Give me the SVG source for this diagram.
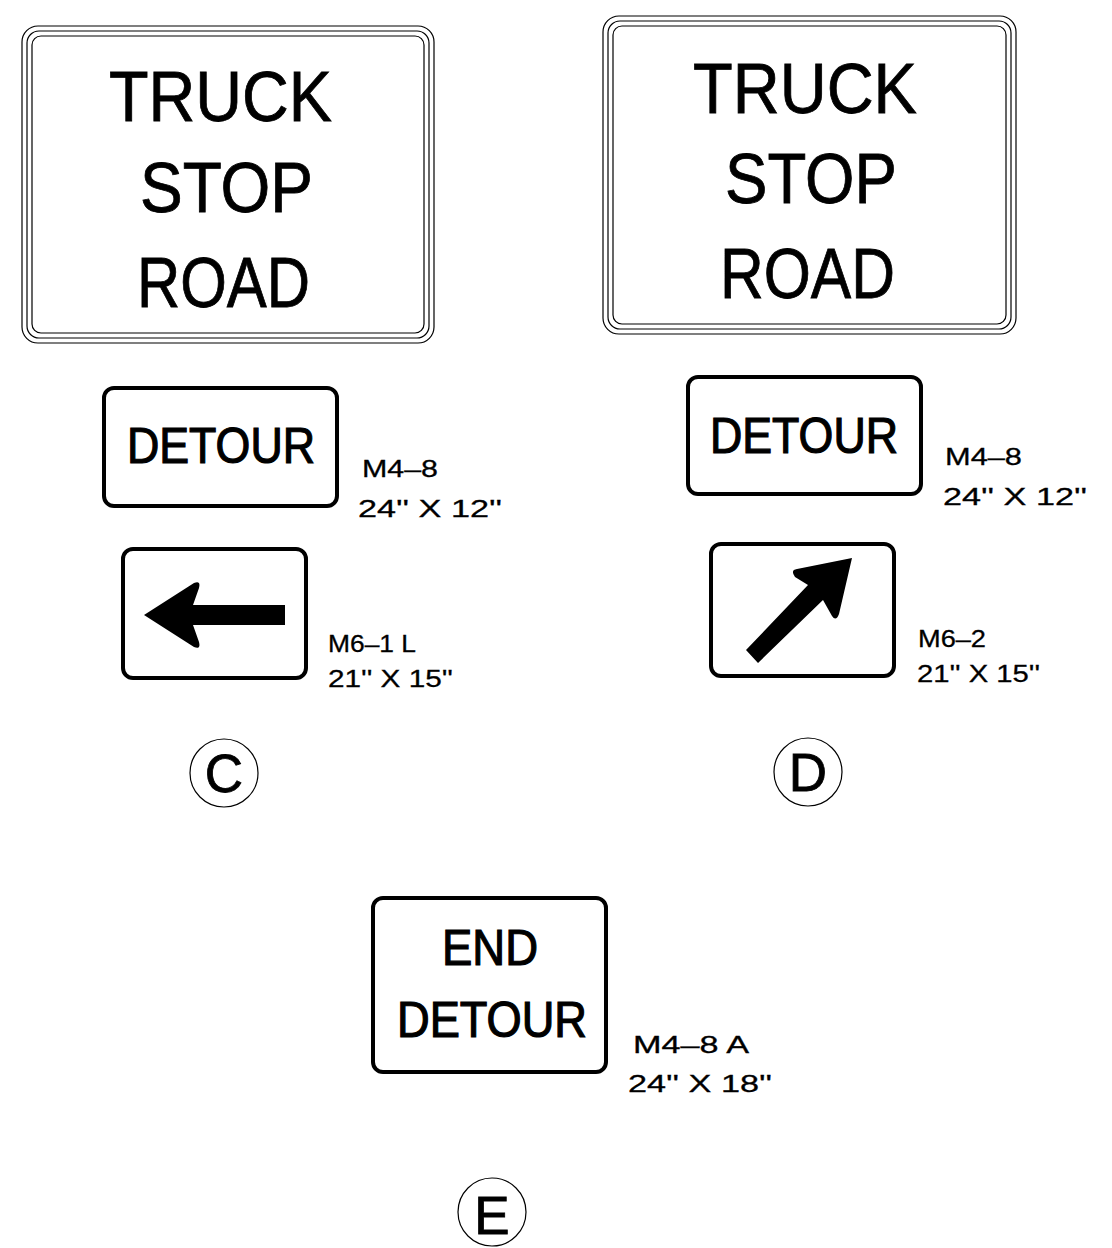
<svg xmlns="http://www.w3.org/2000/svg" width="1112" height="1248" viewBox="0 0 1112 1248">
<style>
.bg{fill:#fff}
.thin{fill:none;stroke:#000;stroke-width:1.2}
.sign{fill:#fff;stroke:#000;stroke-width:4}
.big{font-family:"Liberation Sans",Arial,sans-serif;font-size:70px;fill:#000;stroke:#000;stroke-width:0.8}
.leg{font-family:"Liberation Sans",Arial,sans-serif;font-size:50px;fill:#000;stroke:#000;stroke-width:1.2}
.lab{font-family:"Liberation Sans",Arial,sans-serif;font-size:24px;fill:#000;stroke:#000;stroke-width:0.3}
.circ{fill:none;stroke:#000;stroke-width:1.2}
.cl{font-family:"Liberation Sans",Arial,sans-serif;font-size:53px;fill:#000;stroke:#000;stroke-width:0.8;text-anchor:middle}
</style>
<rect class="bg" x="0" y="0" width="1112" height="1248"/>
<g id="signA">
<rect class="thin" x="22" y="26" width="412" height="317" rx="16"/>
<rect class="thin" x="27" y="31" width="402" height="307" rx="12"/>
<rect class="thin" x="32" y="36" width="392" height="297" rx="9"/>
<text class="big" x="109" y="121" textLength="223" lengthAdjust="spacingAndGlyphs">TRUCK</text>
<text class="big" x="140" y="212" textLength="173" lengthAdjust="spacingAndGlyphs">STOP</text>
<text class="big" x="137" y="307" textLength="173" lengthAdjust="spacingAndGlyphs">ROAD</text>
</g>
<g id="signB">
<rect class="thin" x="603" y="16" width="413" height="318" rx="16"/>
<rect class="thin" x="608" y="21" width="403" height="308" rx="12"/>
<rect class="thin" x="613" y="26" width="393" height="298" rx="9"/>
<text class="big" x="693" y="113" textLength="224" lengthAdjust="spacingAndGlyphs">TRUCK</text>
<text class="big" x="725" y="203" textLength="172" lengthAdjust="spacingAndGlyphs">STOP</text>
<text class="big" x="720" y="298" textLength="175" lengthAdjust="spacingAndGlyphs">ROAD</text>
</g>
<g id="signC1">
<rect class="sign" x="104" y="388" width="233" height="118" rx="10"/>
<text class="leg" x="127" y="463" textLength="188" lengthAdjust="spacingAndGlyphs">DETOUR</text>
<text class="lab" x="362" y="477" textLength="76" lengthAdjust="spacingAndGlyphs">M4–8</text>
<text class="lab" x="358" y="517" textLength="144" lengthAdjust="spacingAndGlyphs">24'' X 12''</text>
</g>
<g id="signC2">
<rect class="sign" x="123" y="549" width="183" height="129" rx="10"/>
<path d="M144,615 L194,583 Q201,580 199,588 L193,605 L285,605 L285,625 L193,625 L199,642 Q201,650 194,647 Z" fill="#000"/>
<text class="lab" x="328" y="652" textLength="88" lengthAdjust="spacingAndGlyphs">M6–1 L</text>
<text class="lab" x="328" y="687" textLength="125" lengthAdjust="spacingAndGlyphs">21'' X 15''</text>
</g>
<g id="labelC">
<circle class="circ" cx="224" cy="773" r="34"/>
<text class="cl" x="224" y="792">C</text>
</g>
<g id="signD1">
<rect class="sign" x="688" y="377" width="233" height="117" rx="10"/>
<text class="leg" x="710" y="453" textLength="188" lengthAdjust="spacingAndGlyphs">DETOUR</text>
<text class="lab" x="945" y="465" textLength="77" lengthAdjust="spacingAndGlyphs">M4–8</text>
<text class="lab" x="943" y="505" textLength="144" lengthAdjust="spacingAndGlyphs">24'' X 12''</text>
</g>
<g id="signD2">
<rect class="sign" x="711" y="544" width="183" height="132" rx="10"/>
<path d="M852,558 L839,614 Q836,622 832,616 L823,600 L758,663 L746,650 L808,585 L795,577 Q790,570 797,569 Z" fill="#000"/>
<text class="lab" x="918" y="647" textLength="68" lengthAdjust="spacingAndGlyphs">M6–2</text>
<text class="lab" x="917" y="682" textLength="123" lengthAdjust="spacingAndGlyphs">21'' X 15''</text>
</g>
<g id="labelD">
<circle class="circ" cx="808" cy="772" r="34"/>
<text class="cl" x="808" y="791">D</text>
</g>
<g id="signE">
<rect class="sign" x="373" y="898" width="233" height="174" rx="10"/>
<text class="leg" x="442" y="965" textLength="96" lengthAdjust="spacingAndGlyphs">END</text>
<text class="leg" x="397" y="1037" textLength="190" lengthAdjust="spacingAndGlyphs">DETOUR</text>
<text class="lab" x="633" y="1053" textLength="116" lengthAdjust="spacingAndGlyphs">M4–8  A</text>
<text class="lab" x="628" y="1092" textLength="144" lengthAdjust="spacingAndGlyphs">24'' X 18''</text>
</g>
<g id="labelE">
<circle class="circ" cx="492" cy="1212" r="34"/>
<text class="cl" x="492" y="1234">E</text>
</g>
<g id="connectors"/>
</svg>
